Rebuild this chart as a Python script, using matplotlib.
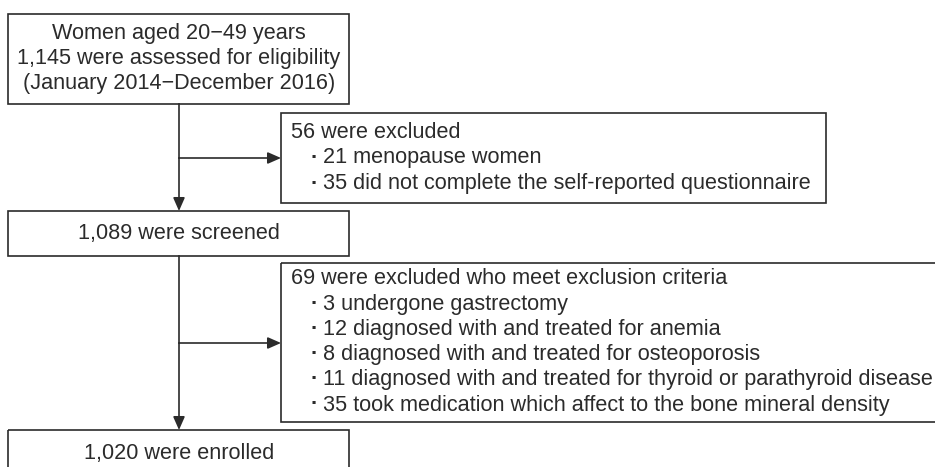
import matplotlib.pyplot as plt
from matplotlib.patches import Rectangle

# flow chart contents
top_lines = ["Women aged 20\u221249 years",
             "1,145 were assessed for eligibility",
             "(January 2014\u2212December 2016)"]
excl1_head = "56 were excluded"
excl1_items = ["21 menopause women",
               "35 did not complete the self-reported questionnaire"]
screened = "1,089 were screened"
excl2_head = "69 were excluded who meet exclusion criteria"
excl2_items = ["3 undergone gastrectomy",
               "12 diagnosed with and treated for anemia",
               "8 diagnosed with and treated for osteoporosis",
               "11 diagnosed with and treated for thyroid or parathyroid disease",
               "35 took medication which affect to the bone mineral density"]
enrolled = "1,020 were enrolled"

W, H = 935, 467
ink = '#2b2b2b'
fs = 15.6
plt.rcParams['font.family'] = ['Liberation Sans', 'DejaVu Sans']

fig = plt.figure(figsize=(W / 100, H / 100), dpi=100)
ax = fig.add_axes([0, 0, 1, 1])
ax.set_xlim(0, W)
ax.set_ylim(H, 0)
ax.axis('off')


def box(x0, y0, x1, y1):
    ax.add_patch(Rectangle((x0, y0), x1 - x0, y1 - y0, fill=False,
                           edgecolor=ink, linewidth=1.2, clip_on=True))


def arrow(x0, y0, x1, y1):
    ax.annotate('', xy=(x1, y1), xytext=(x0, y0),
                arrowprops=dict(arrowstyle='-|>,head_length=0.5,head_width=0.22',
                                color=ink, lw=1.2, mutation_scale=16,
                                shrinkA=0, shrinkB=0))


def bullets(x, y0, head, items, step):
    ax.text(x, y0, head, fontsize=fs, color=ink, ha='left', va='center')
    for i, s in enumerate(items):
        y = y0 + step * (i + 1)
        ax.text(x + 23, y, '\u00b7', fontsize=fs, color=ink, ha='center', va='center',
                fontweight='bold')
        ax.text(x + 32, y, s, fontsize=fs, color=ink, ha='left', va='center')


cx = 179
# top box
box(8, 14, 349, 104)
for i, s in enumerate(top_lines):
    ax.text(cx, 34 + 24.5 * i, s, fontsize=fs, color=ink, ha='center', va='center')

# first exclusion
box(281, 113, 826, 203)
bullets(291, 132, excl1_head, excl1_items, 26)
ax.plot([cx, cx], [104, 158], color=ink, lw=1.2)
arrow(cx, 158, 281, 158)
arrow(cx, 158, cx, 211)

# screened
box(8, 211, 349, 256)
ax.text(cx, 234, screened, fontsize=fs, color=ink, ha='center', va='center')

# second exclusion (runs off the right edge)
box(281, 263, 960, 422)
bullets(291, 279, excl2_head, excl2_items, 25.2)
ax.plot([cx, cx], [256, 343], color=ink, lw=1.2)
arrow(cx, 343, 281, 343)
arrow(cx, 343, cx, 430)

# enrolled (cut at bottom)
box(8, 430, 349, 490)
ax.text(cx, 453, enrolled, fontsize=fs, color=ink, ha='center', va='center')

fig.savefig('out.png', dpi=100)
